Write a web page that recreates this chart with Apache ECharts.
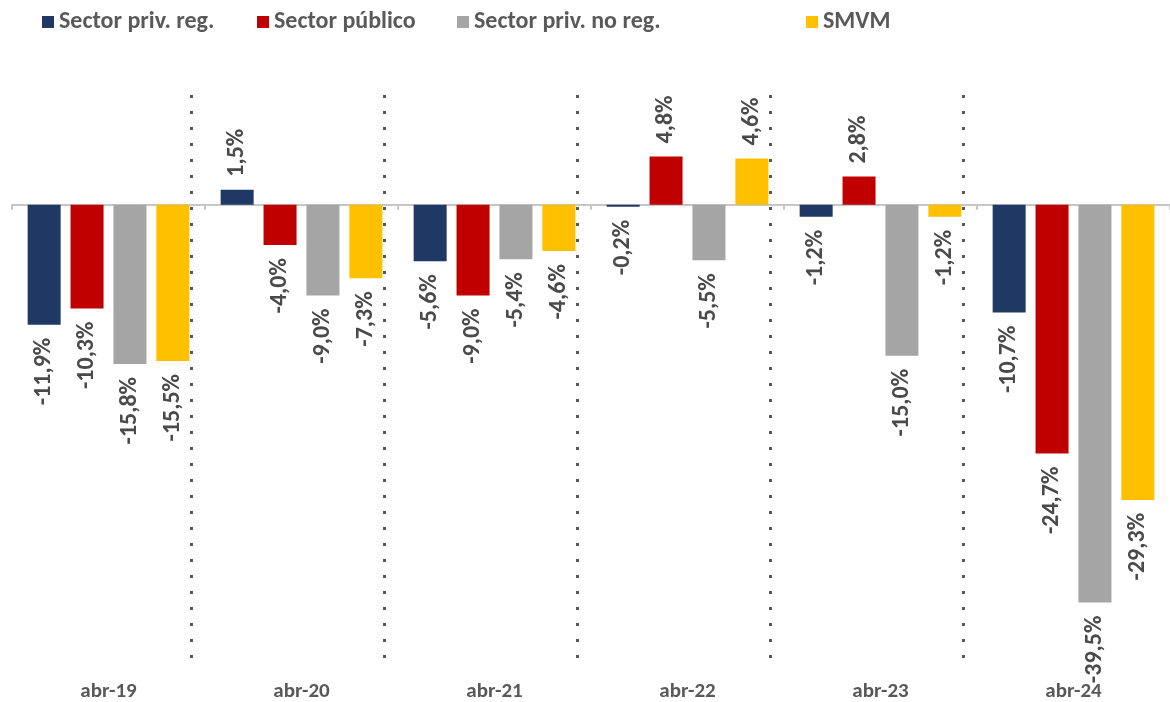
<!DOCTYPE html>
<html>
<head>
<meta charset="utf-8">
<script src="https://cdn.jsdelivr.net/npm/echarts@6/dist/echarts.min.js"></script>
<style>
  html, body { margin: 0; padding: 0; background: #fff; }
  #chart { width: 1170px; height: 702px; }
</style>
</head>
<body>
<div id="chart"></div>
<script>
// datos
var categorias = ['abr-19', 'abr-20', 'abr-21', 'abr-22', 'abr-23', 'abr-24']
var privReg = [-11.9, 1.5, -5.6, -0.2, -1.2, -10.7]
var publico = [-10.3, -4.0, -9.0, 4.8, 2.8, -24.7]
var privNoReg = [-15.8, -9.0, -5.4, -5.5, -15.0, -39.5]
var smvm = [-15.5, -7.3, -4.6, 4.6, -1.2, -29.3]

var FONT = 'Carlito, Lato, sans-serif'
var chart = echarts.init(document.getElementById('chart'))

function fmt(v) {
  return v.toFixed(1).replace('.', ',') + '%'
}

// label rotado, abajo si es negativo, arriba si es positivo
function conLabels(arr) {
  return arr.map(function(v) {
    return {
      value: v,
      label: {
        position: v < 0 ? 'bottom' : 'top',
        align: v < 0 ? 'right' : 'left'
      }
    }
  })
}

function barra(nombre, arr, color) {
  return {
    name: nombre,
    type: 'bar',
    xAxisIndex: 0,
    yAxisIndex: 0,
    barWidth: 33,
    barGap: '30%',
    itemStyle: { color: color },
    label: {
      show: true,
      rotate: 90,
      distance: 13,
      verticalAlign: 'middle',
      color: '#4a4a4a',
      fontFamily: FONT,
      fontWeight: 'bold',
      fontSize: 24,
      formatter: function(p) { return fmt(p.value) }
    },
    data: conLabels(arr),
    animation: false
  }
}

function leyenda(nombre, left) {
  return {
    data: [nombre],
    left: left,
    top: 10,
    padding: 0,
    icon: 'rect',
    itemWidth: 12,
    itemHeight: 12,
    textStyle: { color: '#595959', fontFamily: FONT, fontWeight: 'bold', fontSize: 24 }
  }
}

// separadores punteados entre años
var separadores = []
for (var i = 0; i < 5; i++) {
  separadores.push({ xAxis: i + 0.93 })
}

chart.setOption({
  backgroundColor: '#fff',
  legend: [
    leyenda('Sector priv. reg.', 42),
    leyenda('Sector público', 257),
    leyenda('Sector priv. no reg.', 457),
    leyenda('SMVM', 806)
  ],
  grid: { left: 12, width: 1164, top: 94, height: 564 },
  xAxis: [
    {
      type: 'category',
      data: categorias,
      axisLine: { onZero: true, lineStyle: { color: '#c6c6c6', width: 2 } },
      axisTick: { show: true, length: 5, lineStyle: { color: '#c6c6c6', width: 2 } },
      axisLabel: { show: false }
    },
    {
      type: 'category',
      data: categorias,
      position: 'bottom',
      axisLine: { show: false, onZero: false },
      axisTick: { show: false },
      axisLabel: {
        margin: 23,
        color: '#595959',
        fontFamily: FONT,
        fontWeight: 'bold',
        fontSize: 21
      }
    },
    { type: 'value', min: 0, max: 6, show: false }
  ],
  yAxis: {
    type: 'value',
    min: -45,
    max: 11,
    show: false,
    splitLine: { show: false }
  },
  series: [
    barra('Sector priv. reg.', privReg, '#1f3864'),
    barra('Sector público', publico, '#c00000'),
    barra('Sector priv. no reg.', privNoReg, '#a5a5a5'),
    barra('SMVM', smvm, '#ffc000'),
    {
      type: 'line',
      xAxisIndex: 2,
      yAxisIndex: 0,
      data: [],
      silent: true,
      animation: false,
      markLine: {
        silent: true,
        symbol: 'none',
        label: { show: false },
        lineStyle: { color: '#595959', width: 3, type: [3, 13] },
        data: separadores
      }
    }
  ]
})
</script>
</body>
</html>
